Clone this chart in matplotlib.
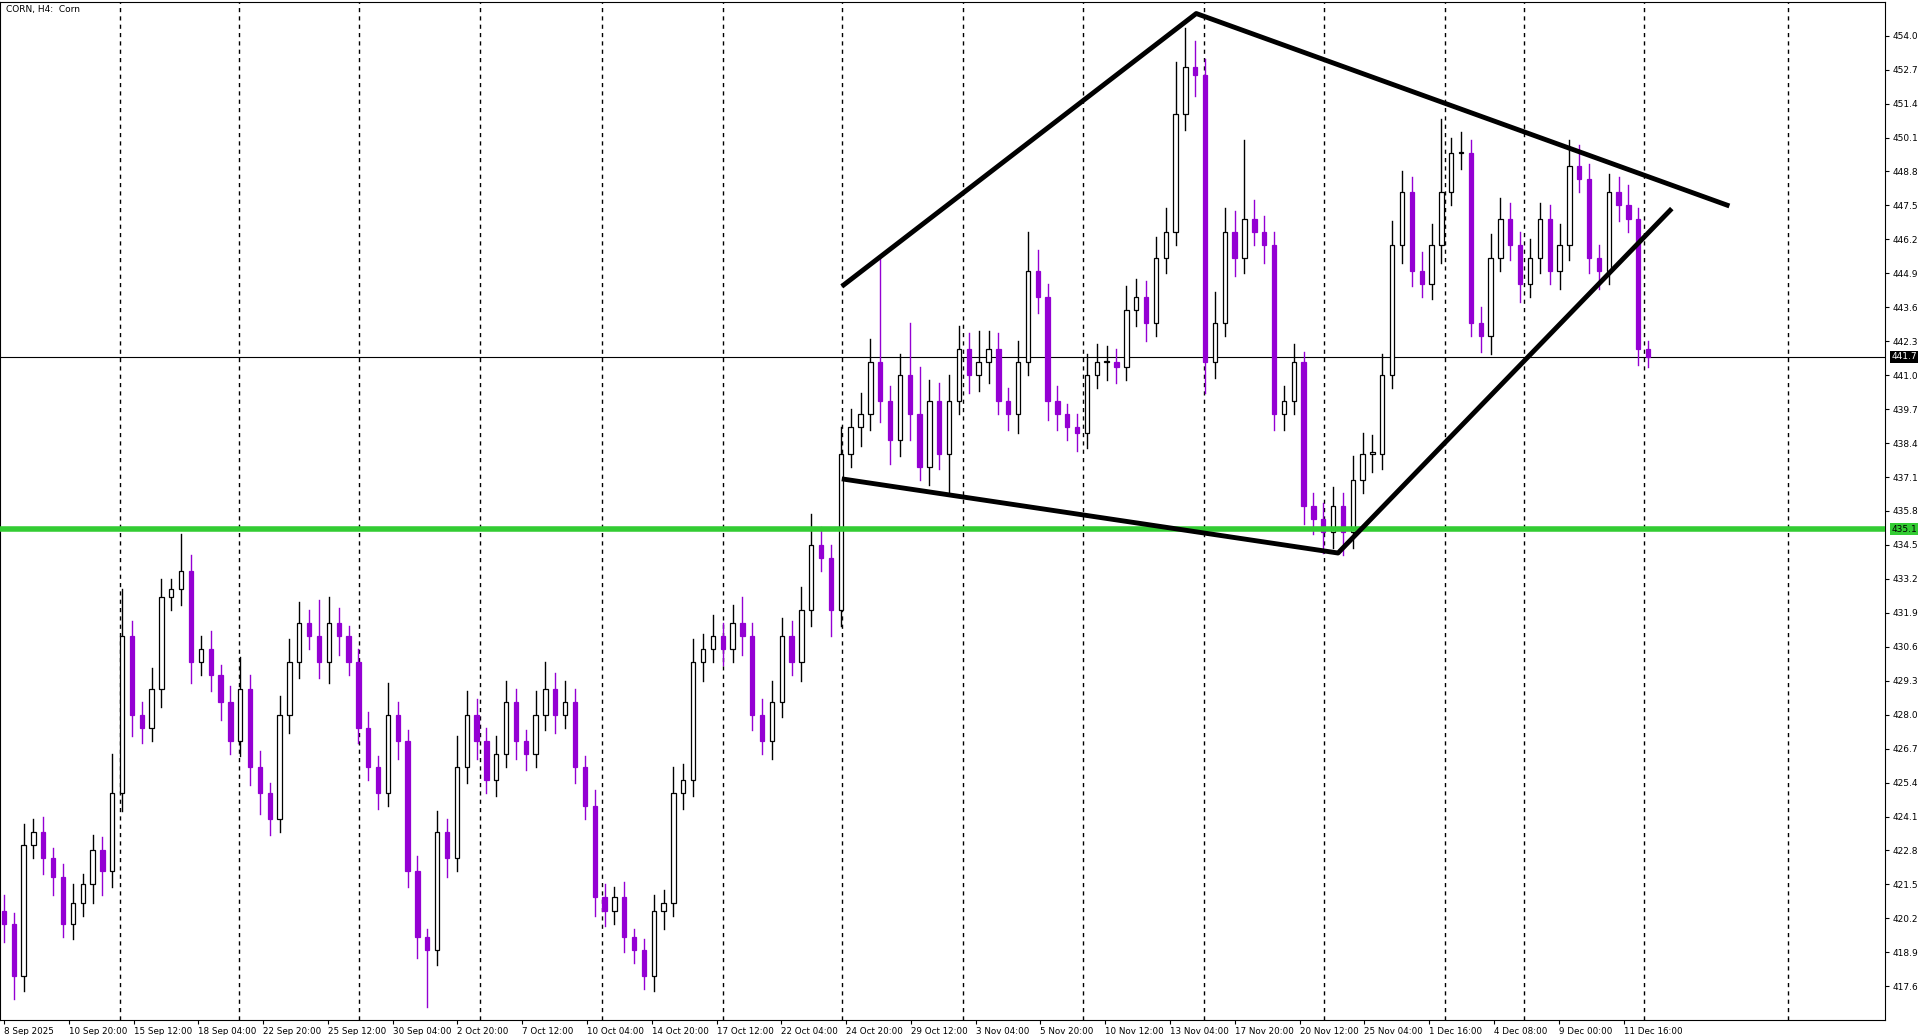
import matplotlib
matplotlib.use("Agg")
import matplotlib.pyplot as plt
from matplotlib.patches import Rectangle

closes = [420.0,418.0,423.0,423.5,422.5,421.8,420.0,420.8,421.5,422.8,
          422.0,425.0,431.0,428.0,427.5,429.0,432.5,432.8,433.5,430.0,
          430.5,429.5,428.5,427.0,429.0,426.0,425.0,424.0,428.0,430.0,
          431.5,431.0,430.0,431.5,431.0,430.0,427.5,426.0,425.0,428.0,
          427.0,422.0,419.5,419.0,423.5,422.5,426.0,428.0,427.0,425.5,
          426.5,428.5,427.0,426.5,428.0,429.0,428.0,428.5,426.0,424.5,
          421.0,420.5,421.0,419.5,419.0,418.0,420.5,420.8,425.0,425.5,
          430.0,430.5,431.0,430.5,431.5,431.0,428.0,427.0,428.5,431.0,
          430.0,432.0,434.5,434.0,432.0,438.0,439.0,439.5,441.5,440.0,
          438.5,441.0,439.5,437.5,440.0,438.0,440.0,442.0,441.0,441.5,
          442.0,440.0,439.5,441.5,445.0,444.0,440.0,439.5,439.0,438.8,
          441.0,441.5,441.5,441.3,443.5,444.0,443.0,445.5,446.5,451.0,
          452.8,452.5,441.5,443.0,446.5,445.5,447.0,446.5,446.0,439.5,
          440.0,441.5,436.0,435.5,435.0,436.0,435.0,437.0,438.0,438.0,
          441.0,446.0,448.0,445.0,444.5,446.0,448.0,449.5,449.5,443.0,
          442.5,445.5,447.0,446.0,444.5,445.5,447.0,445.0,446.0,449.0,
          448.5,445.5,445.0,448.0,447.5,447.0,442.0,441.7]
open0 = 420.5
wick_up = [0.6,0.4,0.8,0.5,0.6,0.4,0.5,0.7,0.4,0.6,
           0.5,1.5,1.8,0.6,0.5,0.8,0.7,0.4,1.4,0.6,
           0.5,0.7,0.4,0.6,1.2,0.5,0.6,0.4,0.7,0.9,
           0.8,0.5,1.4,1.0,0.6,0.4,0.5,0.6,0.4,1.2,
           0.5,0.4,0.6,0.3,0.8,0.5,1.2,0.9,0.6,0.5,
           0.7,0.8,0.5,0.4,0.9,1.0,0.6,0.8,0.5,0.4,
           0.6,0.5,0.4,0.6,0.3,0.4,0.6,0.5,1.0,0.6,
           0.9,0.6,0.8,0.5,0.7,1.0,0.5,0.6,0.8,0.7,
           0.6,0.9,1.2,0.7,0.5,1.0,0.7,0.8,0.9,4.0,
           0.6,0.8,2.0,1.8,0.8,0.7,1.0,0.9,0.6,1.2,
           0.7,0.6,0.5,0.8,1.5,0.8,0.5,0.6,0.4,0.5,
           0.8,0.7,0.6,0.5,0.9,0.7,0.6,0.8,0.9,2.0,
           1.5,1.0,0.6,1.2,0.9,0.8,3.0,0.7,0.6,0.5,
           0.6,0.7,0.4,0.5,0.6,0.7,0.5,0.9,0.8,0.7,
           0.8,0.9,0.8,0.6,0.7,0.8,2.8,0.6,0.8,0.5,
           0.6,0.9,0.8,0.6,0.5,0.7,0.6,0.5,0.8,1.0,
           0.8,0.6,0.5,0.7,0.6,0.8,0.4,0.3]
wick_dn = [0.7,0.9,0.6,0.5,0.6,0.7,0.5,0.6,0.5,0.7,
           0.9,0.6,0.7,0.8,0.6,0.5,0.7,0.5,0.6,0.8,
           0.5,0.6,0.7,0.5,0.6,0.7,0.8,0.6,0.5,0.7,
           0.6,0.5,0.6,0.8,0.7,0.5,0.6,0.5,0.6,0.5,
           0.7,0.6,0.8,2.2,0.6,0.7,0.5,0.6,0.7,0.5,
           0.6,0.5,0.7,0.6,0.5,0.6,0.7,0.5,0.6,0.5,
           0.7,0.6,0.5,0.6,0.5,0.5,0.6,0.7,0.5,0.6,
           0.6,0.7,0.5,0.6,0.5,0.7,0.6,0.5,0.7,0.6,
           0.5,0.7,0.6,0.5,1.0,0.6,0.5,0.7,0.6,0.8,
           0.9,0.6,1.0,0.5,0.7,0.6,1.6,0.5,0.7,0.6,
           0.8,0.5,0.6,0.7,0.5,0.6,0.7,0.6,0.5,0.7,
           0.6,0.5,0.7,0.6,0.5,0.6,0.7,0.5,0.6,0.5,
           0.6,0.8,1.2,0.6,0.5,0.7,0.6,0.5,0.7,0.6,
           0.6,0.5,0.7,0.6,0.8,0.6,0.9,0.6,0.5,0.7,
           0.6,0.5,0.7,0.6,0.5,0.6,0.7,0.5,0.6,0.5,
           0.6,0.7,0.5,0.6,0.7,0.5,0.6,0.5,0.7,0.6,
           0.5,0.6,0.7,0.5,0.6,0.5,0.6,0.4]

x_labels = ["8 Sep 2025","10 Sep 20:00","15 Sep 12:00","18 Sep 04:00","22 Sep 20:00",
            "25 Sep 12:00","30 Sep 04:00","2 Oct 20:00","7 Oct 12:00","10 Oct 04:00",
            "14 Oct 20:00","17 Oct 12:00","22 Oct 04:00","24 Oct 20:00","29 Oct 12:00",
            "3 Nov 04:00","5 Nov 20:00","10 Nov 12:00","13 Nov 04:00","17 Nov 20:00",
            "20 Nov 12:00","25 Nov 04:00","1 Dec 16:00","4 Dec 08:00","9 Dec 00:00",
            "11 Dec 16:00"]
y_ticks = [417.6,418.9,420.2,421.5,422.8,424.1,425.4,426.7,428.0,429.3,430.6,431.9,
           433.2,434.5,435.8,437.1,438.4,439.7,441.0,442.3,443.6,444.9,446.2,447.5,
           448.8,450.1,451.4,452.7,454.0]
upper_line = [(85.1,444.4),(121.1,454.85),(175.25,447.48)]
lower_line = [(85.1,437.03),(135.5,434.19),(169.4,447.38)]
support = 435.1
last_price = 441.7
label_step = 6.58
grid_x = [11.75,23.9,36.1,48.4,60.75,73.0,85.1,97.4,109.6,121.9,134.1,146.4,154.4,166.6,181.25]

PURPLE = "#9400D3"
fig = plt.figure(figsize=(19.2, 10.35), dpi=100)
ax = fig.add_axes([0.0, 0.0143, 0.982, 0.984])
ax.set_xlim(-0.4, 191.1)
ax.set_ylim(416.3, 455.3)

for gx in grid_x:
    ax.axvline(gx, color="black", lw=1, ls=(0, (3, 3)), zorder=0)

prev = open0
for i, c in enumerate(closes):
    o = prev
    hi = max(o, c) + wick_up[i]
    lo = min(o, c) - wick_dn[i]
    up = c >= o
    col = "black" if up else PURPLE
    ax.plot([i, i], [lo, hi], color=col, lw=1.0, zorder=2)
    body = max(abs(c - o), 0.05)
    ax.add_patch(Rectangle((i - 0.22, min(o, c)), 0.44, body,
                           facecolor="white" if up else PURPLE,
                           edgecolor=col, lw=0.9, zorder=3))
    prev = c

ax.axhline(support, color="#33CC33", lw=4, zorder=4)
ax.axhline(last_price, color="black", lw=0.8, zorder=1)
for line in (upper_line, lower_line):
    xs, ys = zip(*line)
    ax.plot(xs, ys, color="black", lw=3.5, zorder=5, solid_capstyle="butt")

ax.yaxis.tick_right()
ax.set_yticks(y_ticks)
ax.set_yticklabels([f"{v:.1f}" for v in y_ticks], fontsize=6.5)
ax.set_xticks([i * label_step for i in range(len(x_labels))])
ax.set_xticklabels(x_labels, fontsize=6.3, ha="left")
ax.tick_params(length=3, pad=2)
for s in ax.spines.values():
    s.set_linewidth(0.8)

trans = ax.get_yaxis_transform()
ax.text(1.003, last_price, f"{last_price:.1f}", transform=trans, fontsize=6.5, color="white",
        va="center", ha="left", bbox=dict(facecolor="black", edgecolor="none", pad=1), zorder=10, clip_on=False)
ax.text(1.003, support, f"{support:.1f}", transform=trans, fontsize=6.5, color="black",
        va="center", ha="left", bbox=dict(facecolor="#33CC33", edgecolor="none", pad=1), zorder=10, clip_on=False)
ax.text(0.003, 0.997, "CORN, H4:  Corn", transform=ax.transAxes, fontsize=6.5, va="top", ha="left")

fig.savefig("out.png", dpi=100)
